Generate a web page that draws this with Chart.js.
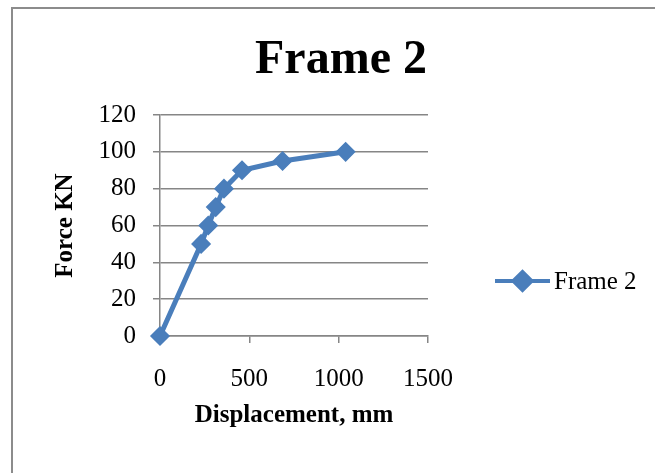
<!DOCTYPE html>
<html>
<head>
<meta charset="utf-8">
<title>Frame 2</title>
<script src="https://cdn.jsdelivr.net/npm/chart.js@4/dist/chart.umd.min.js"></script>
<style>
  html, body { margin: 0; padding: 0; background: #fff; overflow: hidden; }
  body { width: 655px; height: 473px; position: relative; }
  .frame {
    position: absolute; left: 11px; top: 7px; right: 0; bottom: 0;
    border-top: 2px solid #8c8c8c; border-left: 2px solid #8c8c8c;
    overflow: hidden;
  }
  #chart { position: absolute; left: 0; top: 0; }
</style>
</head>
<body>
<div class="frame">
  <canvas id="chart" width="642" height="464"></canvas>
</div>
<script>
// Load-displacement readings for frame 2
const seriesName = 'Frame 2';
const displacement = [0, 230, 270, 312, 358, 459, 686, 1039];
const force = [0, 50, 60, 70, 80, 90, 95, 100];
const xTicks = [0, 500, 1000, 1500];
const yTicks = [0, 20, 40, 60, 80, 100, 120];

const blue = '#4a7ebb';
const gridGray = '#868686';
const serif = '"Liberation Serif", "Times New Roman", serif';

// Chart title, centred over the whole box (the legend column included)
const boxTitle = {
  id: 'boxTitle',
  afterDraw(chart) {
    const ctx = chart.ctx;
    ctx.save();
    ctx.fillStyle = '#000';
    ctx.font = 'bold 48px ' + serif;
    ctx.textAlign = 'center';
    ctx.textBaseline = 'alphabetic';
    ctx.fillText(seriesName, 328, 64);
    ctx.restore();
  }
};

// Legend on the right: line with a diamond, then the series name
const sideLegend = {
  id: 'sideLegend',
  afterDraw(chart) {
    const ctx = chart.ctx;
    const ds = chart.data.datasets[0];
    const y = 272;
    ctx.save();
    ctx.strokeStyle = ds.borderColor;
    ctx.lineWidth = 4;
    ctx.beginPath();
    ctx.moveTo(482, y);
    ctx.lineTo(537, y);
    ctx.stroke();
    Chart.helpers.drawPoint(ctx, { pointStyle: 'rectRot', radius: 9, borderWidth: 1 }, 509.5, y);
    ctx.fillStyle = ds.backgroundColor;
    ctx.fill();
    ctx.fillStyle = '#000';
    ctx.font = '25px ' + serif;
    ctx.textAlign = 'left';
    ctx.textBaseline = 'middle';
    ctx.fillText(ds.label, 541, y + 1);
    ctx.restore();
  }
};

new Chart(document.getElementById('chart').getContext('2d'), {
  type: 'scatter',
  data: {
    datasets: [{
      label: seriesName,
      data: displacement.map((d, i) => ({ x: d, y: force[i] })),
      showLine: true,
      clip: false,
      borderColor: blue,
      backgroundColor: blue,
      borderWidth: 5,
      pointStyle: 'rectRot',
      pointRadius: 9,
      pointBorderWidth: 1.5,
      pointBackgroundColor: blue,
      pointBorderColor: blue
    }]
  },
  options: {
    responsive: false,
    animation: false,
    layout: { padding: { left: 0, right: 227, top: 106, bottom: 0 } },
    plugins: {
      legend: { display: false },
      tooltip: { enabled: false },
      title: { display: false }
    },
    scales: {
      x: {
        type: 'linear',
        min: 0,
        max: 1500,
        afterBuildTicks: s => { s.ticks = xTicks.map(v => ({ value: v })); },
        afterFit: s => { s.height = 137; },
        grid: { drawOnChartArea: false, drawTicks: true, tickLength: 7, color: gridGray, lineWidth: 1.5 },
        border: { display: true, color: gridGray, width: 1.5 },
        ticks: { color: '#000', padding: 21, maxRotation: 0, font: { family: serif, size: 25 },
                 callback: v => String(v) },
        title: {
          display: true,
          text: 'Displacement, mm',
          color: '#000',
          font: { family: serif, size: 25, weight: 'bold', lineHeight: 1.2 },
          padding: { top: 0, bottom: 42 }
        }
      },
      y: {
        type: 'linear',
        min: 0,
        max: 120,
        afterBuildTicks: s => { s.ticks = yTicks.map(v => ({ value: v })); },
        afterFit: s => { s.width = 147; },
        grid: { drawOnChartArea: true, drawTicks: true, tickLength: 7, color: gridGray, lineWidth: 1.5 },
        border: { display: true, color: gridGray, width: 1.5 },
        ticks: { color: '#000', padding: 17, font: { family: serif, size: 25 },
                 callback: v => String(v) },
        title: {
          display: true,
          text: 'Force KN',
          color: '#000',
          font: { family: serif, size: 25, weight: 'bold', lineHeight: 1.2 },
          padding: { top: 38, bottom: 0 }
        }
      }
    }
  },
  plugins: [boxTitle, sideLegend]
});
</script>
</body>
</html>
